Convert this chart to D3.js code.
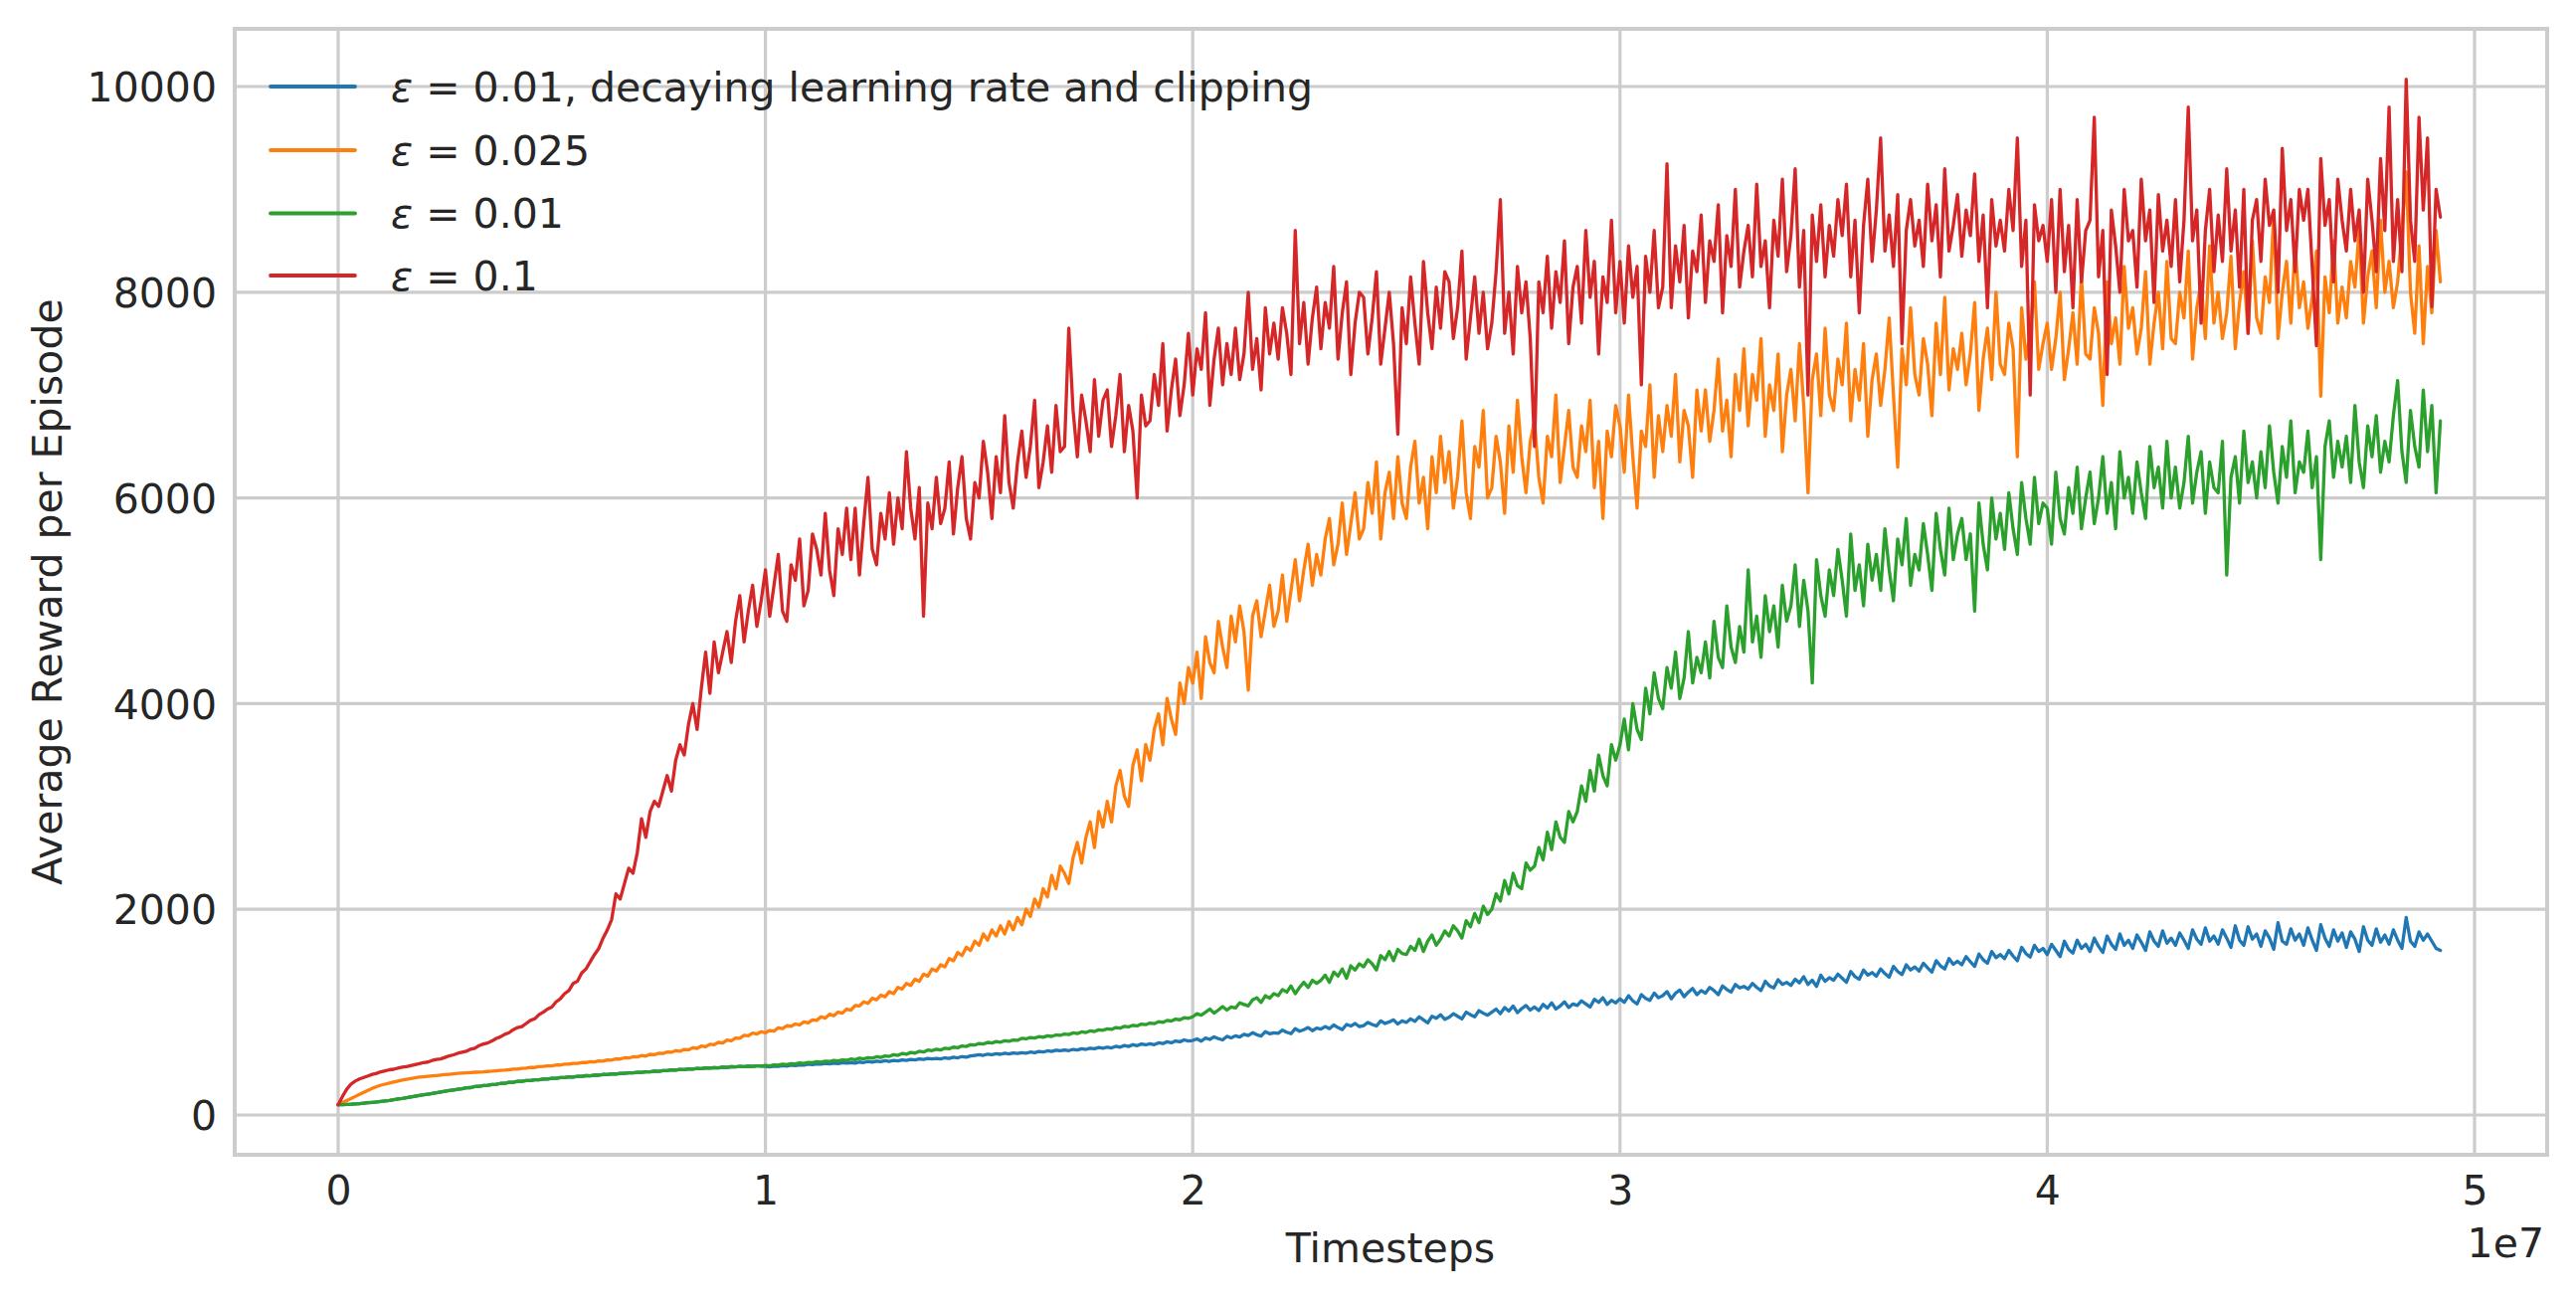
<!DOCTYPE html>
<html><head><meta charset="utf-8">
<script src="https://cdn.jsdelivr.net/npm/d3@7"></script>
<style>body{margin:0;background:#fff}svg{display:block}</style>
</head><body><svg id="chart" width="2590" height="1307"></svg>
<script>
// ---------- data (one logged value every 1e5 timesteps, 0 .. 4.92e7) ----------
const stepSize = 1e5;
const blueValues = [
100,101,103,105,108,111,115,119,123,127,
132,137,142,148,155,161,168,175,182,189,
196,203,210,217,224,231,238,244,250,256,
264,266,276,278,287,288,297,298,307,308,
317,318,327,327,335,335,343,343,350,350,
357,356,364,363,370,369,376,375,382,381,
388,387,394,393,400,398,405,404,410,409,
415,414,420,419,426,425,432,431,438,437,
444,442,449,447,453,451,457,455,461,459,
465,463,469,467,472,470,475,473,478,476,
472,468,476,472,480,476,484,480,488,484,
494,490,498,494,502,498,504,500,508,504,
510,505,515,510,520,514,524,518,528,522,
530,525,536,530,540,535,546,540,550,545,
550,545,556,550,562,556,568,562,574,580,
586,580,592,586,596,590,600,594,604,598,
606,600,612,606,618,612,624,618,630,624,
632,626,638,632,644,638,650,644,656,650,
660,652,668,660,676,666,684,674,690,682,
692,684,702,694,712,702,720,712,730,720,
725,740,718,748,735,760,742,730,765,750,
770,758,785,772,800,780,768,810,790,800,
795,825,805,790,840,815,830,850,820,845,
835,860,840,875,850,830,880,865,890,860,
870,900,880,865,915,890,905,925,885,915,
900,935,910,955,925,895,960,940,975,930,
950,985,960,935,1000,975,955,1015,990,970,
1000,1030,985,1045,1010,1060,995,1035,1065,1020,
1050,1015,1075,1040,1090,1030,1060,1100,1045,1080,
1065,1110,1080,1050,1125,1095,1140,1075,1115,1090,
1130,1095,1160,1110,1080,1170,1135,1115,1185,1140,
1160,1200,1130,1185,1215,1150,1195,1230,1170,1210,
1185,1240,1210,1170,1255,1220,1195,1270,1235,1250,
1225,1280,1240,1210,1300,1255,1235,1315,1270,1290,
1260,1320,1285,1345,1270,1310,1250,1360,1300,1335,
1310,1370,1330,1290,1395,1345,1320,1410,1360,1385,
1350,1420,1375,1340,1445,1395,1365,1460,1410,1440,
1400,1475,1430,1390,1500,1450,1420,1520,1465,1495,
1460,1540,1490,1445,1565,1510,1475,1590,1530,1560,
1520,1600,1545,1500,1630,1570,1535,1650,1590,1620,
1560,1660,1600,1540,1690,1610,1575,1700,1620,1660,
1590,1720,1640,1580,1740,1660,1610,1760,1650,1700,
1620,1750,1680,1600,1780,1690,1640,1790,1670,1720,
1650,1770,1700,1620,1800,1710,1660,1820,1690,1740,
1660,1800,1720,1630,1840,1700,1650,1830,1710,1760,
1640,1790,1720,1610,1870,1690,1660,1810,1700,1760,
1650,1820,1700,1600,1850,1720,1640,1800,1690,1770,
1630,1780,1710,1590,1830,1700,1650,1810,1680,1750,
1660,1800,1700,1620,1920,1690,1640,1780,1700,1760,
1690,1620,1600];
const orangeValues = [
100,120,140,160,180,200,220,240,260,275,
290,300,310,320,330,340,348,355,362,368,
372,376,380,384,388,392,396,400,404,407,
410,413,416,418,420,423,426,430,433,436,
440,446,446,454,456,462,462,470,472,478,
478,486,486,494,494,502,502,510,510,518,
516,526,524,536,534,546,544,556,554,566,
564,578,572,590,586,600,598,612,610,626,
620,638,634,654,648,670,664,688,684,706,
700,728,722,748,746,774,770,796,788,810,
800,822,815,848,840,868,862,885,876,905,
895,925,920,955,942,980,965,1000,990,1030,
1020,1065,1060,1100,1085,1135,1120,1165,1150,1200,
1180,1240,1225,1280,1260,1320,1300,1370,1350,1420,
1400,1460,1440,1520,1500,1580,1550,1630,1600,1690,
1650,1760,1700,1800,1740,1840,1760,1880,1800,1920,
1850,2000,1930,2100,2020,2200,2120,2330,2200,2420,
2350,2250,2500,2650,2450,2700,2850,2600,2950,2800,
3050,2850,3200,3350,3100,3000,3400,3550,3250,3600,
3450,3750,3900,3600,4050,3850,3700,4200,4000,4350,
4200,4500,4050,4650,4400,4300,4800,4550,4350,4850,
4600,4950,4700,4130,4850,5000,4650,4900,5150,4750,
4900,5250,4800,5100,5400,5000,5300,5550,5150,5450,
5250,5600,5800,5350,5550,5950,5450,5750,6050,5600,
5700,6150,5850,6350,5600,6050,6250,5800,6400,5950,
5800,6300,6550,5950,6200,5700,6400,6050,6600,6150,
6450,5900,6200,6750,6050,5800,6500,6300,6850,6000,
6100,6600,6350,5850,6700,6250,6950,6400,6050,6550,
6750,6200,5950,6600,6400,7000,6150,6500,6850,6300,
6200,6700,6450,6950,6100,6550,5800,6650,6400,6900,
6700,6250,7000,6400,5900,6650,6500,7100,6200,6800,
6450,6900,6600,7200,6350,6850,6700,6200,7050,6650,
7050,6550,6850,7350,6650,6950,6400,7200,6850,7450,
6700,7200,6950,7550,6600,7100,6850,7400,6450,7000,
7250,6750,7500,6900,6050,7150,7400,6800,7650,7000,
6850,7350,7100,7700,6750,7250,6950,7500,6600,7150,
7400,6900,7250,7750,7000,6300,7450,7100,7850,7200,
7000,7550,7300,6800,7700,7200,7950,7050,7450,7250,
7600,7100,7400,7900,6850,7350,7650,7150,8000,7300,
7200,7700,7450,6400,7850,7350,7600,8100,7250,7500,
7700,7250,7550,8000,7150,7450,7800,7300,8150,7400,
7350,7850,7600,6900,8100,7500,7750,7300,8250,7650,
7850,7400,7650,8200,7300,7700,8000,7450,8300,7550,
7500,8000,7750,8400,7350,7850,8100,7550,8450,7700,
8000,7550,7800,8350,7450,7900,8200,7600,8500,7750,
7600,8150,7900,8770,7550,8000,8300,7700,8450,7850,
8100,7650,7950,8400,6990,8150,7800,8500,7700,8050,
7750,8300,8050,8600,7700,8150,8400,7850,8700,8000,
8300,7850,8100,8600,9170,8000,7600,8450,7500,8250,
7800,8600,8100];
const greenValues = [
100,101,103,105,108,111,115,119,123,127,
132,137,142,148,155,161,168,175,182,189,
196,203,210,217,224,231,238,244,250,256,
264,266,276,278,287,288,297,298,307,308,
317,318,327,327,335,335,343,343,350,350,
357,356,364,363,370,369,376,375,382,381,
388,387,394,393,400,398,405,404,410,409,
415,414,420,419,426,425,432,431,438,437,
444,442,449,447,453,451,457,455,461,459,
465,463,469,467,472,470,475,473,478,476,
482,478,488,484,494,490,500,496,506,502,
512,508,518,514,524,520,530,526,536,532,
544,538,552,546,558,552,566,560,574,570,
586,580,598,590,608,602,620,612,632,626,
640,632,650,644,660,654,672,666,684,680,
696,690,706,700,714,708,722,716,730,726,
746,740,754,748,762,756,770,764,778,774,
788,782,798,792,808,802,818,812,828,824,
838,832,850,844,862,856,872,866,884,878,
894,888,908,900,920,914,932,926,946,940,
955,985,970,1000,1030,990,1020,1055,1020,1050,
1040,1090,1075,1060,1120,1140,1095,1160,1135,1180,
1160,1220,1195,1255,1180,1240,1290,1240,1310,1280,
1310,1360,1290,1390,1350,1420,1330,1450,1410,1470,
1440,1510,1470,1410,1550,1510,1590,1500,1610,1570,
1560,1640,1600,1710,1590,1690,1750,1650,1710,1790,
1740,1840,1790,1720,1890,1830,1960,1870,2030,1950,
2000,2150,2080,2280,2150,2350,2230,2200,2450,2380,
2420,2600,2480,2750,2580,2850,2700,2650,2950,2850,
2950,3200,3050,3350,3150,3500,3300,3200,3600,3450,
3600,3850,3550,4000,3750,3650,4150,3900,4300,4050,
3950,4350,4150,4500,4050,4250,4700,4200,4450,4300,
4600,4250,4800,4450,4350,4950,4550,4400,4750,4500,
5300,4600,4850,4450,5050,4700,4950,4550,5150,4800,
4950,5350,4750,5200,4900,4200,5400,5050,4850,5300,
5050,5500,5200,4850,5650,5100,5350,4950,5550,5200,
5450,5100,5700,5300,5000,5600,5350,5800,5150,5450,
5300,5750,5450,5100,5850,5500,5250,5900,5400,5650,
5800,5400,5650,4900,5950,5550,5300,6000,5600,5850,
5500,6050,5700,5450,6150,5800,5550,6200,5750,5950,
5900,5550,6250,5800,5650,6100,5850,6300,5700,6000,
6250,5750,6000,6400,5850,6150,5700,6450,6000,6200,
5850,6350,6050,5800,6500,6100,6300,5900,6550,6000,
6300,5900,6150,6600,5950,6250,6450,5850,6350,6100,
6050,6550,5250,6200,6400,5950,6650,6150,6350,6000,
6450,6100,6700,6250,5950,6500,6200,6750,6050,6350,
6250,6650,6100,6400,5400,6500,6750,6200,6550,6300,
6600,6150,6900,6350,6100,6700,6400,6800,6250,6550,
6350,6800,7140,6450,6150,6850,6500,6300,7050,6450,
6900,6050,6750];
const redValues = [
100,180,250,300,330,350,365,380,395,405,
420,430,440,445,455,465,470,480,490,500,
510,515,530,540,545,560,575,585,600,610,
620,640,650,675,690,700,720,745,760,785,
800,830,850,860,890,920,935,975,1000,1030,
1050,1100,1130,1180,1210,1280,1300,1380,1420,1490,
1560,1620,1720,1800,1900,2150,2100,2250,2400,2350,
2550,2880,2700,2950,3050,3000,3150,3300,3150,3450,
3600,3500,3800,4000,3750,4150,4500,4100,4600,4300,
4500,4700,4400,4800,5050,4600,4900,5150,4750,5000,
5300,4850,5150,5450,4900,4800,5350,5200,5600,4950,
5100,5650,5500,5250,5850,5300,5050,5700,5450,5900,
5400,5900,5250,5750,6200,5500,5350,5850,5600,6050,
5550,6000,5700,6450,5900,5600,6100,4850,5950,5700,
6200,5750,5900,6350,5650,6100,6400,5800,5600,6150,
6000,6550,6250,5800,6400,6050,6800,6150,5900,6350,
6650,6200,6500,6950,6100,6350,6700,6250,6900,6450,
6500,7650,6850,6400,7000,6750,6450,7150,6600,6950,
7050,6500,6800,7200,6450,6900,6650,6000,7000,6700,
6750,7200,6900,7500,6650,7050,7350,6800,7100,7600,
7000,7450,7250,7800,6900,7350,7650,7100,7500,7200,
7650,7150,7400,8000,7250,7550,7050,7850,7400,7700,
7350,7850,7600,7200,8600,7500,7900,7300,7750,8050,
7450,7900,7650,8250,7350,7800,8100,7200,7700,8000,
7950,7400,7750,8200,7300,7650,8000,7500,6620,7850,
7500,8150,7700,7300,8300,7800,7450,8050,7650,8200,
8100,7550,7850,8400,7350,7750,8150,7600,8000,7450,
7700,8200,8900,7600,8000,7400,8250,7800,8100,7550,
6500,8100,7800,8350,7650,8200,7900,8500,7500,8050,
8250,7700,8600,7950,8300,7400,8150,7900,8700,7800,
8300,7700,8450,7950,8250,7100,8350,8000,8600,7850,
8050,9250,7850,8450,8100,8650,7750,8400,8200,8750,
7900,8500,8300,8850,7800,8550,8250,9000,8050,8400,
8650,8150,9050,8250,8500,7850,8700,8350,9100,8200,
8550,9200,8050,8600,7000,8750,8300,8850,8150,8650,
8350,8900,8550,9050,8150,8700,7800,8650,9100,8300,
8800,9500,8400,8750,8250,8950,7500,8600,8900,8450,
8700,8250,9050,8500,8850,8150,9200,8400,8650,8950,
8350,8800,8550,9150,8300,8750,7850,8900,8450,8700,
8400,9000,8600,9500,8250,8700,7000,8850,8500,8650,
8300,8900,8000,9000,8200,8650,7850,8900,8100,8600,
8700,9700,8150,8600,7200,8800,8450,8000,9000,8500,
8600,8050,9100,8500,8800,7900,8950,8400,8700,8250,
8900,8100,8700,9800,8500,8800,7700,8600,9000,8200,
8750,8300,9200,8400,8800,8050,9000,7600,8700,8900,
8300,9100,8650,8800,8000,9400,8600,8900,8200,9000,
8700,9000,8250,7480,9300,8650,8900,8100,9100,8700,
8400,9000,8500,8800,8000,9100,8700,8200,9300,8600,
9800,8300,8900,8200,10070,8700,8300,9700,8800,9500,
7860,9000,8730];

const seriesLabels = ["0.01, decaying learning rate and clipping", "0.025", "0.01", "0.1"];
const seriesColors = ["#1f77b4", "#ff7f0e", "#2ca02c", "#d62728"];
const seriesValues = [blueValues, orangeValues, greenValues, redValues];

const xTicks = [0, 1e7, 2e7, 3e7, 4e7, 5e7];
const xTickLabels = ["0", "1", "2", "3", "4", "5"];
const yTicks = [0, 2000, 4000, 6000, 8000, 10000];
const yTickLabels = ["0", "2000", "4000", "6000", "8000", "10000"];
const xAxisTitle = "Timesteps";
const yAxisTitle = "Average Reward per Episode";
const offsetText = "1e7";

// ---------- layout ----------
const W = 2590, H = 1307;
const plot = {left: 236, right: 2561, top: 29, bottom: 1161};
const FONT = "'DejaVu Sans', sans-serif";
const FS = 41;
const TEXT = "#262626";
const GRID = "#cccccc";

const svg = d3.select("#chart");
svg.append("rect").attr("width", W).attr("height", H).attr("fill", "#fff");

const x = d3.scaleLinear().domain([0, 5e7]).range([340, 2488]);
const y = d3.scaleLinear().domain([0, 10000]).range([1121, 87]);

// grid
const g = svg.append("g");
g.selectAll("line.gx").data(xTicks).join("line")
  .attr("class", "gx")
  .attr("x1", d => x(d)).attr("x2", d => x(d))
  .attr("y1", plot.top).attr("y2", plot.bottom)
  .attr("stroke", GRID).attr("stroke-width", 3.2);
g.selectAll("line.gy").data(yTicks).join("line")
  .attr("class", "gy")
  .attr("x1", plot.left).attr("x2", plot.right)
  .attr("y1", d => y(d)).attr("y2", d => y(d))
  .attr("stroke", GRID).attr("stroke-width", 3.2);

// axes via d3 (no tick marks, seaborn whitegrid)
const xAxis = d3.axisBottom(x).tickValues(xTicks).tickSize(0).tickPadding(0)
  .tickFormat((d, i) => xTickLabels[i]);
const xg = svg.append("g").attr("transform", `translate(0,${plot.bottom})`).call(xAxis);
xg.select(".domain").remove();
xg.selectAll("text").attr("font-family", FONT).attr("font-size", FS).attr("fill", TEXT)
  .attr("dy", null).attr("y", 50);

const yAxis = d3.axisLeft(y).tickValues(yTicks).tickSize(0).tickPadding(0)
  .tickFormat((d, i) => yTickLabels[i]);
const yg = svg.append("g").attr("transform", `translate(${plot.left},0)`).call(yAxis);
yg.select(".domain").remove();
yg.selectAll("text").attr("font-family", FONT).attr("font-size", FS).attr("fill", TEXT)
  .attr("x", -18).attr("dy", "0.36em");

// frame
svg.append("rect")
  .attr("x", plot.left).attr("y", plot.top)
  .attr("width", plot.right - plot.left).attr("height", plot.bottom - plot.top)
  .attr("fill", "none").attr("stroke", GRID).attr("stroke-width", 4);

// lines
const line = d3.line().x((d, i) => x(i * stepSize)).y(d => y(d));
svg.append("g").selectAll("path").data(seriesValues).join("path")
  .attr("d", d => line(d))
  .attr("fill", "none")
  .attr("stroke", (d, i) => seriesColors[i])
  .attr("stroke-width", 3.3)
  .attr("stroke-linejoin", "round")
  .attr("stroke-linecap", "round");

// axis titles
svg.append("text").attr("x", 1398).attr("y", 1269)
  .attr("text-anchor", "middle").attr("font-family", FONT).attr("font-size", FS)
  .attr("fill", TEXT).text(xAxisTitle);
svg.append("text").attr("transform", "translate(62,595) rotate(-90)")
  .attr("text-anchor", "middle").attr("font-family", FONT).attr("font-size", FS)
  .attr("fill", TEXT).text(yAxisTitle);
svg.append("text").attr("x", 2558).attr("y", 1264)
  .attr("text-anchor", "end").attr("font-family", FONT).attr("font-size", FS)
  .attr("fill", TEXT).text(offsetText);

// legend
const leg = svg.append("g");
const rowY = [87, 151, 214.5, 277];
seriesLabels.forEach((lab, i) => {
  leg.append("line").attr("x1", 272).attr("x2", 357)
    .attr("y1", rowY[i]).attr("y2", rowY[i])
    .attr("stroke", seriesColors[i]).attr("stroke-width", 3.8).attr("stroke-linecap", "round");
  const t = leg.append("text").attr("x", 393).attr("y", rowY[i]).attr("dy", "0.36em")
    .attr("font-family", FONT).attr("font-size", FS).attr("fill", TEXT);
  t.append("tspan").attr("font-style", "italic").text("ε");
  t.append("tspan").text(" = " + lab);
});
</script></body></html>
